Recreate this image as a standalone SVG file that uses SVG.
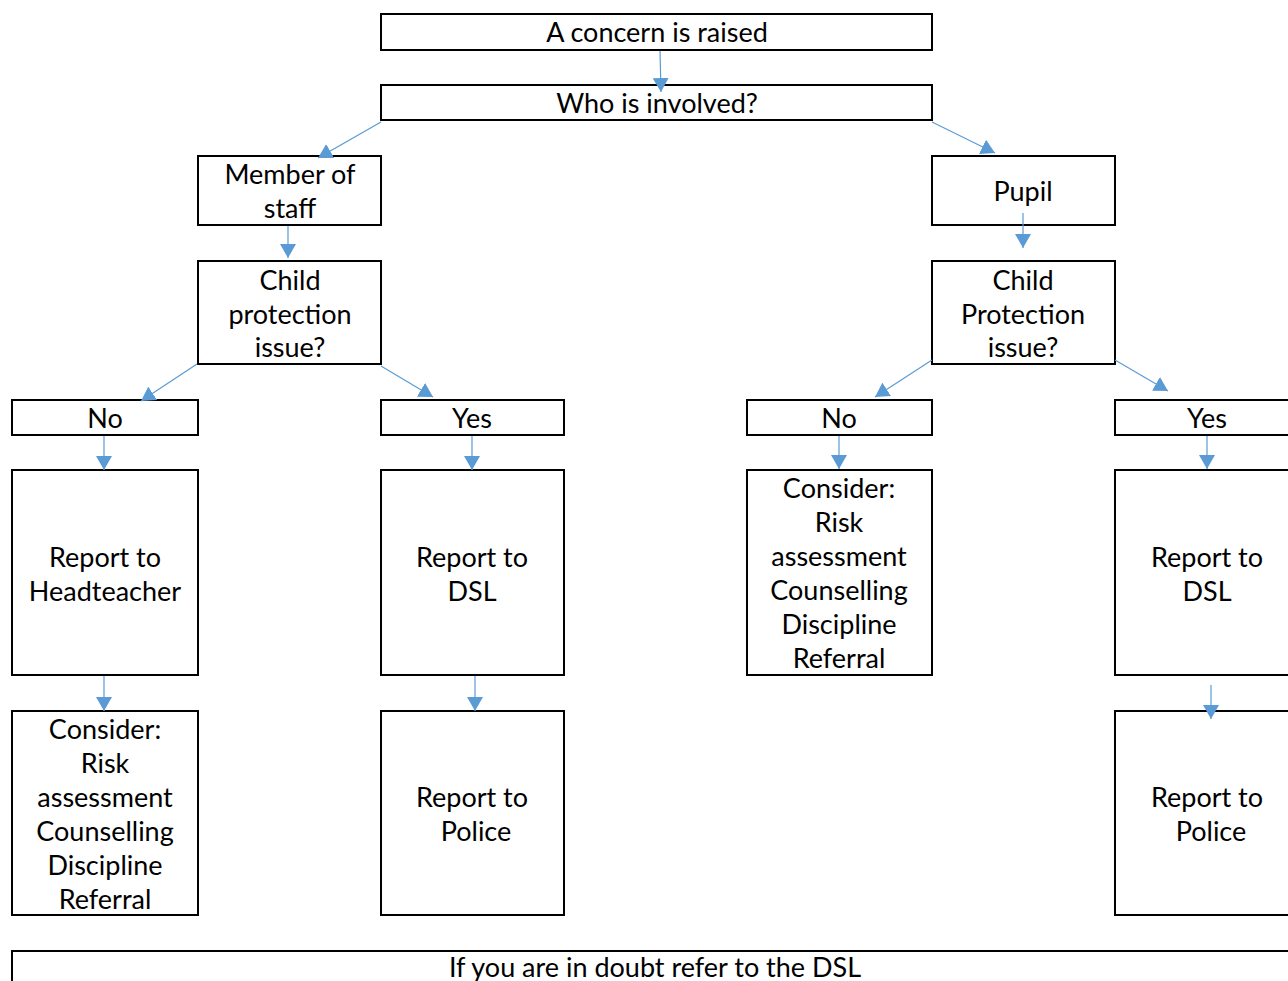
<svg xmlns="http://www.w3.org/2000/svg" width="1288" height="981" viewBox="0 0 1288 981">
  <defs>
    <style>
      .box { fill: #ffffff; stroke: #000000; stroke-width: 2; }
      .lbl { font-family: Lato, "Open Sans", "DejaVu Sans", sans-serif; font-size: 27px; fill: #000000; text-anchor: middle; }
      .con { stroke: #5B9BD5; stroke-width: 1.2; fill: none; marker-end: url(#tri); }
    </style>
    <marker id="tri" viewBox="0 0 14 16" refX="14" refY="8" markerWidth="14" markerHeight="16" markerUnits="userSpaceOnUse" orient="auto">
      <path d="M0,0 L14,8 L0,16 Z" fill="#5B9BD5"/>
    </marker>
  </defs>
  <rect width="1288" height="981" fill="#ffffff"/>

  <g id="concern"><rect class="box" x="381" y="14" width="551" height="36"/><text class="lbl" x="657" y="42">A concern is raised</text></g>
  <g id="who"><rect class="box" x="381" y="85" width="551" height="35"/><text class="lbl" x="657" y="113">Who is involved?</text></g>
  <g id="staff"><rect class="box" x="198" y="156" width="183" height="69"/><text class="lbl" x="290" y="184">Member of</text><text class="lbl" x="290" y="218">staff</text></g>
  <g id="pupil"><rect class="box" x="932" y="156" width="183" height="69"/><text class="lbl" x="1023" y="201">Pupil</text></g>
  <g id="cp-staff"><rect class="box" x="198" y="261" width="183" height="103"/><text class="lbl" x="290" y="290">Child</text><text class="lbl" x="290" y="324">protection</text><text class="lbl" x="290" y="357">issue?</text></g>
  <g id="cp-pupil"><rect class="box" x="932" y="261" width="183" height="103"/><text class="lbl" x="1023" y="290">Child</text><text class="lbl" x="1023" y="324">Protection</text><text class="lbl" x="1023" y="357">issue?</text></g>
  <g id="no-staff"><rect class="box" x="12" y="400" width="186" height="35"/><text class="lbl" x="105" y="428">No</text></g>
  <g id="yes-staff"><rect class="box" x="381" y="400" width="183" height="35"/><text class="lbl" x="472" y="428">Yes</text></g>
  <g id="no-pupil"><rect class="box" x="747" y="400" width="185" height="35"/><text class="lbl" x="839" y="428">No</text></g>
  <g id="yes-pupil"><rect class="box" x="1115" y="400" width="180" height="35"/><text class="lbl" x="1207" y="428">Yes</text></g>
  <g id="head"><rect class="box" x="12" y="470" width="186" height="205"/><text class="lbl" x="105" y="567">Report to</text><text class="lbl" x="105" y="601">Headteacher</text></g>
  <g id="dsl-staff"><rect class="box" x="381" y="470" width="183" height="205"/><text class="lbl" x="472" y="567">Report to</text><text class="lbl" x="472" y="601">DSL</text></g>
  <g id="consider-pupil"><rect class="box" x="747" y="470" width="185" height="205"/>
    <text class="lbl" x="839" y="498">Consider:</text><text class="lbl" x="839" y="532">Risk</text><text class="lbl" x="839" y="566">assessment</text><text class="lbl" x="839" y="600">Counselling</text><text class="lbl" x="839" y="634">Discipline</text><text class="lbl" x="839" y="668">Referral</text></g>
  <g id="dsl-pupil"><rect class="box" x="1115" y="470" width="180" height="205"/><text class="lbl" x="1207" y="567">Report to</text><text class="lbl" x="1207" y="601">DSL</text></g>
  <g id="consider-staff"><rect class="box" x="12" y="711" width="186" height="204"/>
    <text class="lbl" x="105" y="739">Consider:</text><text class="lbl" x="105" y="773">Risk</text><text class="lbl" x="105" y="807">assessment</text><text class="lbl" x="105" y="841">Counselling</text><text class="lbl" x="105" y="875">Discipline</text><text class="lbl" x="105" y="909">Referral</text></g>
  <g id="police-staff"><rect class="box" x="381" y="711" width="183" height="204"/><text class="lbl" x="472" y="807">Report to</text><text class="lbl" x="476" y="841">Police</text></g>
  <g id="police-pupil"><rect class="box" x="1115" y="711" width="180" height="204"/><text class="lbl" x="1207" y="807">Report to</text><text class="lbl" x="1211" y="841">Police</text></g>
  <g id="doubt"><rect class="box" x="12" y="951" width="1283" height="40"/><text class="lbl" x="655" y="977">If you are in doubt refer to the DSL</text></g>

  <g id="connectors">
    <line class="con" x1="660" y1="51" x2="661" y2="92"/>
    <line class="con" x1="381" y1="122" x2="318" y2="158"/>
    <line class="con" x1="932" y1="122" x2="995" y2="153"/>
    <line class="con" x1="288" y1="226" x2="288" y2="258"/>
    <line class="con" x1="1023" y1="213" x2="1023" y2="248"/>
    <line class="con" x1="197" y1="364" x2="141" y2="401"/>
    <line class="con" x1="381" y1="366" x2="433" y2="397"/>
    <line class="con" x1="932" y1="360" x2="875" y2="397"/>
    <line class="con" x1="1115" y1="360" x2="1168" y2="391"/>
    <line class="con" x1="104" y1="436" x2="104" y2="470"/>
    <line class="con" x1="472" y1="436" x2="472" y2="470"/>
    <line class="con" x1="839" y1="436" x2="839" y2="469"/>
    <line class="con" x1="1207" y1="436" x2="1207" y2="469"/>
    <line class="con" x1="104" y1="676" x2="104" y2="711"/>
    <line class="con" x1="475" y1="676" x2="475" y2="711"/>
    <line class="con" x1="1211" y1="685" x2="1211" y2="719"/>
  </g>
</svg>
